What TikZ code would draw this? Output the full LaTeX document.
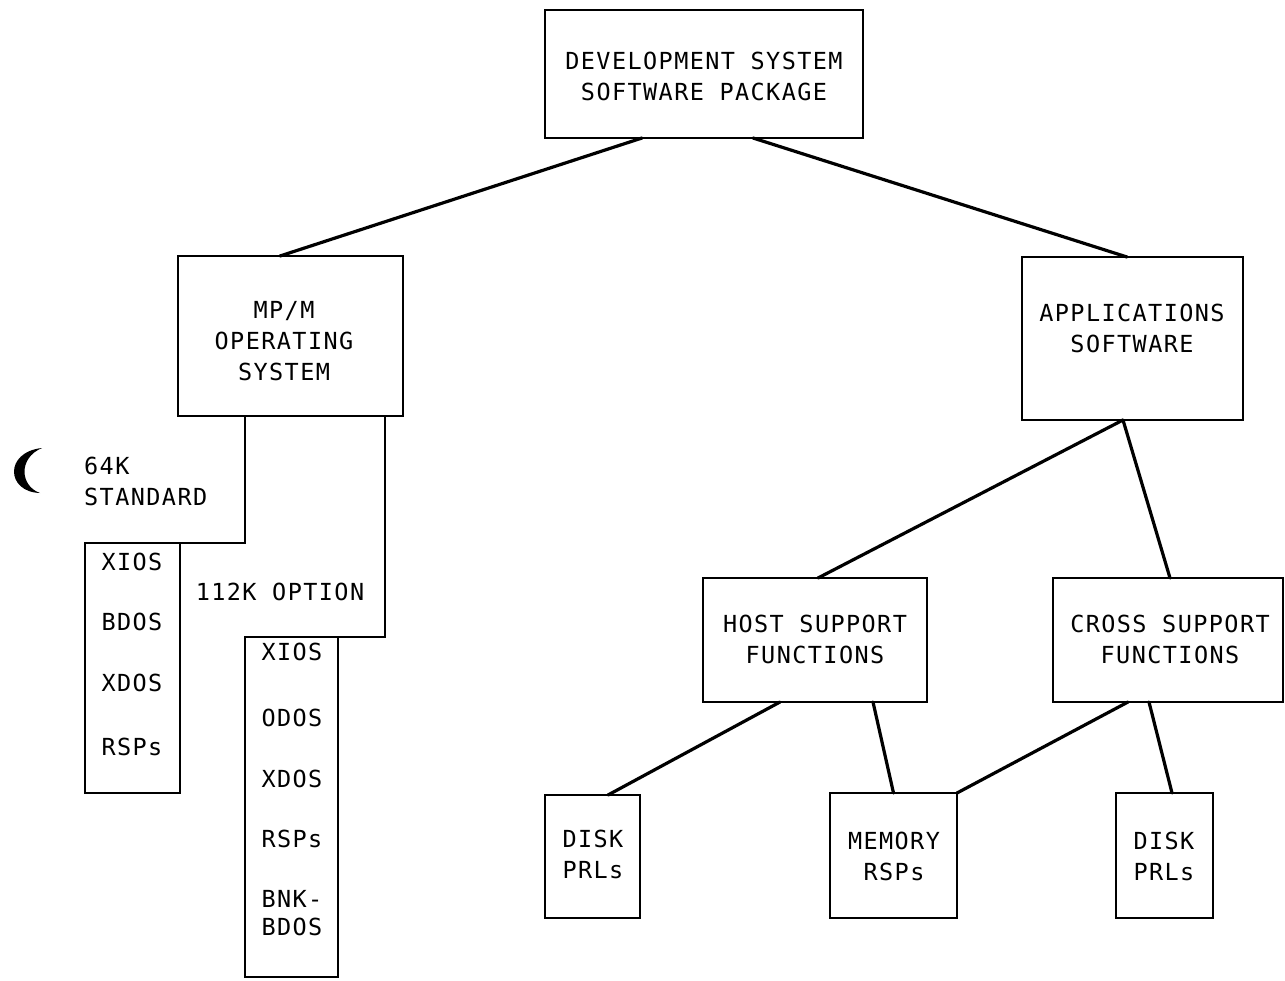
\documentclass[tikz,border=0pt]{standalone}
\usepackage{fontspec}
\newfontfamily\plotfont[LetterSpace=6]{DejaVu Sans Mono}
\usetikzlibrary{calc}
\begin{document}
\begin{tikzpicture}[x=1pt,y=-1pt,
  box/.style={draw, rectangle, line width=2.8pt, inner sep=0pt, outer sep=0pt},
  conn/.style={line width=3.2pt, line cap=round},
  stepline/.style={line width=2.8pt},
  txt/.style={font=\plotfont\fontsize{23.5}{31}\selectfont, align=center, inner sep=0pt},
  txttight/.style={font=\plotfont\fontsize{23.5}{28}\selectfont, align=center, inner sep=0pt}]
\useasboundingbox (0,0) rectangle (1285,980);
\fill[white] (0,0) rectangle (1285,980);

% boxes
\node[box, minimum width=318, minimum height=128] (top) at (704,74) {};
\node[box, minimum width=225, minimum height=160] (mpm) at (290.5,336) {};
\node[box, minimum width=221, minimum height=163] (apps) at (1132.5,338.5) {};
\node[box, minimum width=224, minimum height=124] (host) at (815,640) {};
\node[box, minimum width=230, minimum height=124] (cross) at (1168,640) {};
\node[box, minimum width=95, minimum height=123] (disk1) at (592.5,856.5) {};
\node[box, minimum width=127, minimum height=125] (mem) at (893.5,855.5) {};
\node[box, minimum width=97, minimum height=125] (disk2) at (1164.5,855.5) {};
\node[box, minimum width=95, minimum height=250] (col1) at (132.5,668) {};
\node[box, minimum width=93, minimum height=340] (col2) at (291.5,807) {};

% texts
\node[txt] (toptxt) at (704,76) {DEVELOPMENT SYSTEM\\SOFTWARE PACKAGE};
\node[txt] (mpmtxt) at (284,341) {MP/M\\OPERATING\\SYSTEM};
\node[txt] (appstxt) at (1132,328) {APPLICATIONS\\SOFTWARE};
\node[txt] (hosttxt) at (815,639) {HOST SUPPORT\\FUNCTIONS};
\node[txt] (crosstxt) at (1170,639) {CROSS SUPPORT\\FUNCTIONS};
\node[txt] (disk1txt) at (593,854) {DISK\\PRLs};
\node[txt] (memtxt) at (894,856) {MEMORY\\RSPs};
\node[txt] (disk2txt) at (1164,856) {DISK\\PRLs};
\node[txt, align=left, anchor=west] (stdtxt) at (84,481) {64K\\STANDARD};
\node[txt] (opttxt) at (280,592) {112K OPTION};
\node[txt] (c1a) at (132,562) {XIOS};
\node[txt] (c1b) at (132,622) {BDOS};
\node[txt] (c1c) at (132,683) {XDOS};
\node[txt] (c1d) at (132,747) {RSPs};
\node[txt] (c2a) at (292,652) {XIOS};
\node[txt] (c2b) at (292,718) {ODOS};
\node[txt] (c2c) at (292,779) {XDOS};
\node[txt] (c2d) at (292,839) {RSPs};
\node[txttight] (c2e) at (292,913.5) {BNK-\\BDOS};

% connectors
\draw[conn] ([xshift=-62pt]top.south) -- ([xshift=-10.5pt]mpm.north);
\draw[conn] ([xshift=49pt]top.south) -- ([xshift=-5.5pt]apps.north);
\draw[conn] ([xshift=-9.5pt]apps.south) -- ([xshift=3pt]host.north);
\draw[conn] ([xshift=-9.5pt]apps.south) -- ([xshift=2pt]cross.north);
\draw[conn] ([xshift=-35pt]host.south) -- ([xshift=15.5pt]disk1.north);
\draw[conn] ([xshift=58pt]host.south) -- (mem.north);
\draw[conn] ([xshift=-40pt]cross.south) -- (mem.north east);
\draw[conn] ([xshift=-19pt]cross.south) -- ([xshift=7.5pt]disk2.north);
\draw[stepline] ([xshift=-45.5pt]mpm.south) |- (col1.north west);
\draw[stepline] ([xshift=94.5pt]mpm.south) |- (col2.north west);

% binding mark
\fill (42,448) .. controls (4,452) and (6,492) .. (40,493) .. controls (20,486) and (18,458) .. (42,448) -- cycle;
\end{tikzpicture}
\end{document}
